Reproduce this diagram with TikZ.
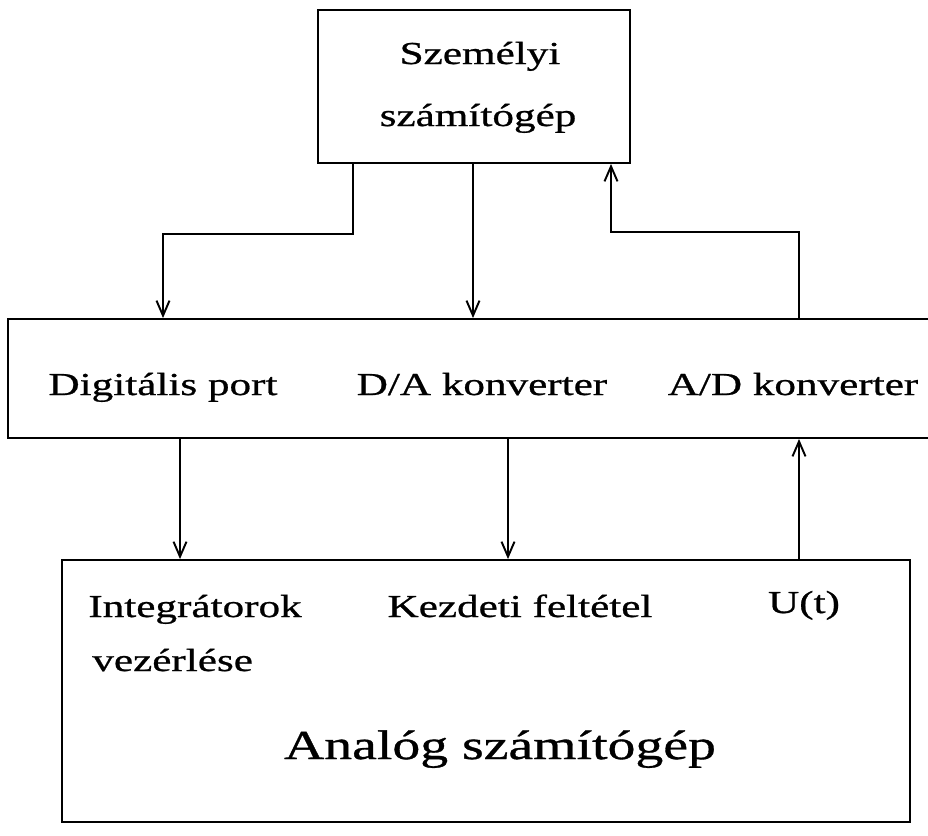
\documentclass[tikz,border=0pt]{standalone}
\usepackage{fontspec}
\setmainfont{Liberation Serif}[FakeStretch=1.35, FakeBold=0.8]
\usetikzlibrary{arrows.meta, positioning}

\begin{document}
\begin{tikzpicture}[x=0.02cm, y=-0.02cm, >={Straight Barb[length=3mm, width=2.6mm]},
    box/.style={draw, line width=1.1pt, inner sep=0pt},
    lbl/.style={font=\fontsize{18.2}{22}\selectfont, inner sep=0pt, anchor=base},
    link/.style={->, line width=1.1pt}]
    \useasboundingbox (0,0) rectangle (928,835);

    % Boxes
    \node[box, minimum width=6.24cm, minimum height=3.06cm] (pc) at (474,86.5) {};
    \node[box, minimum width=18.54cm, minimum height=2.38cm] (io) at (471.5,378.5) {};
    \node[box, minimum width=16.96cm, minimum height=5.24cm] (an) at (486,691) {};

    % Personal computer
    \node[lbl] (pc1) at (480,64) {Személyi};
    \node[lbl] (pc2) at (478,126) {számítógép};

    % Interface
    \node[lbl] (dig) at (163,395) {Digitális port};
    \node[lbl] (da) at (482,395) {D/A konverter};
    \node[lbl] (ad) at (793,395) {A/D konverter};

    % Analog computer
    \node[lbl, anchor=base west] (int1) at (88,617) {Integrátorok};
    \node[lbl, anchor=base west] (int2) at (92,671) {vezérlése};
    \node[lbl] (kf) at (520,617) {Kezdeti feltétel};
    \node[lbl] (ut) at (804,613) {U(t)};
    \node[lbl, font=\fontsize{23.5}{28}\selectfont] (acomp) at (500,759) {Analóg számítógép};

    % Connector positions
    \coordinate (xl) at (353,0);
    \coordinate (xm) at (473,0);
    \coordinate (xr) at (611,0);
    \coordinate (xdig) at (163,0);
    \coordinate (xad) at (799,0);
    \coordinate (xint) at (180,0);
    \coordinate (xkf) at (508,0);

    % PC <-> interface
    \draw[link] (pc.south -| xl) -- ++(0,70) -| (io.north -| xdig);
    \draw[link] (pc.south -| xm) -- (io.north -| xm);
    \draw[link] (io.north -| xad) -- ++(0,-86) -| (pc.south -| xr);

    % Interface <-> analog computer
    \draw[link] (io.south -| xint) -- (an.north -| xint);
    \draw[link] (io.south -| xkf) -- (an.north -| xkf);
    \draw[link] (an.north -| xad) -- (io.south -| xad);
\end{tikzpicture}
\end{document}
